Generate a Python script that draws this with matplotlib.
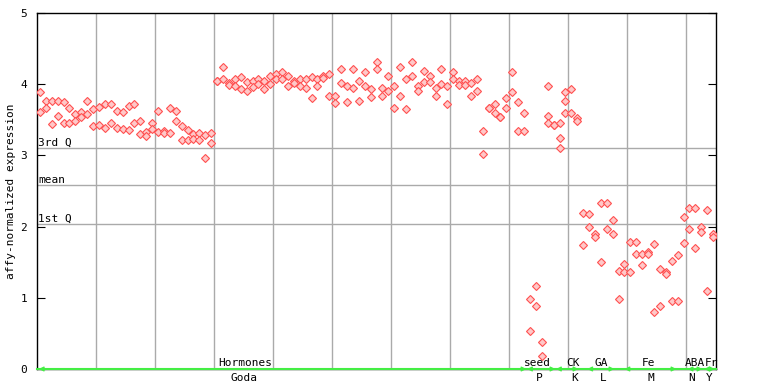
import matplotlib
matplotlib.use('Agg')
import matplotlib.pyplot as plt

# replicate values per sample
expr = [
    [3.89, 3.61], [3.76, 3.66], [3.77, 3.44], [3.76, 3.55], [3.75, 3.45],
    [3.66, 3.46], [3.58, 3.49], [3.61, 3.54], [3.77, 3.58], [3.65, 3.41],
    [3.68, 3.43], [3.72, 3.38], [3.72, 3.46], [3.62, 3.39], [3.61, 3.37],
    [3.69, 3.35], [3.72, 3.45], [3.49, 3.30], [3.33, 3.27], [3.45, 3.37],
    [3.63, 3.33], [3.34, 3.32], [3.67, 3.32], [3.62, 3.48], [3.41, 3.21],
    [3.35, 3.21], [3.30, 3.23], [3.32, 3.21], [3.28, 2.96], [3.31, 3.17],
    [4.05, 4.05], [4.24, 4.08], [4.02, 3.99], [4.07, 3.98], [4.10, 3.93],
    [4.03, 3.90], [4.05, 3.96], [4.08, 4.00], [4.04, 3.93], [4.11, 4.00],
    [4.15, 4.08], [4.17, 4.08], [4.12, 3.97], [4.04, 4.01], [4.07, 3.97],
    [4.08, 3.94], [4.10, 3.80], [4.07, 3.98], [4.11, 4.09], [4.15, 3.84],
    [3.83, 3.73], [4.21, 4.01], [3.97, 3.75], [4.21, 3.94], [4.04, 3.76],
    [4.17, 3.98], [3.93, 3.82], [4.31, 4.22], [3.94, 3.84], [4.11, 3.91],
    [3.97, 3.66], [4.24, 3.83], [4.08, 3.65], [4.31, 4.11], [3.98, 3.91],
    [4.18, 4.03], [4.12, 4.03], [3.94, 3.84], [4.21, 4.00], [3.98, 3.72],
    [4.17, 4.07], [4.04, 3.99], [4.05, 3.99], [4.01, 3.84], [4.08, 3.90],
    [3.34, 3.02], [3.66, 3.66], [3.72, 3.59], [3.54, 3.54], [3.80, 3.66],
    [4.17, 3.89], [3.75, 3.34], [3.59, 3.34], [0.99, 0.53], [1.16, 0.89],
    [0.38, 0.18], [3.98, 3.55, 3.46], [3.42, 3.42], [3.46, 3.24, 3.10],
    [3.89, 3.77, 3.59], [3.93, 3.59], [3.53, 3.49], [2.19, 1.74], [2.17, 2.00],
    [1.90, 1.85], [2.33, 1.50], [2.33, 1.96], [2.09, 1.89], [1.37, 0.99],
    [1.47, 1.36], [1.79, 1.36], [1.78, 1.62], [1.61, 1.46], [1.65, 1.62],
    [1.75, 0.80], [1.40, 0.88], [1.36, 1.33], [1.51, 0.95], [1.60, 0.95],
    [2.13, 1.77], [2.26, 1.96], [2.26, 1.70], [2.00, 1.92], [2.24, 1.09],
    [1.89, 1.85],
]

quartiles = [3.10, 2.585, 2.04]
quartile_names = ['3rd Q', 'mean', '1st Q']

# groups along the bottom
group_top = ['Hormones', 'seed', 'CK', 'GA', 'Fe', 'ABA', 'Fr']
group_bottom = ['Goda', 'P', 'K', 'L', 'M', 'N', 'Y']
group_start = [0.3, 83.0, 87.9, 93.2, 99.5, 110.2, 113.0]
group_end = [82.9, 87.8, 91.7, 97.8, 108.3, 112.7, 114.8]
top_x = [35.3, 84.7, 90.7, 95.6, 103.6, 111.4, 114.2]
bottom_x = [35.0, 85.1, 91.0, 95.9, 103.9, 110.8, 113.9]

plt.rcParams['font.family'] = ['DejaVu Sans Mono']
plt.rcParams['font.size'] = 8

fig = plt.figure(figsize=(7.68, 3.84), dpi=100)
ax = fig.add_axes([37/768, 15/384, 679/768, 356/384])

xs = []
ys = []
for i, reps in enumerate(expr):
    for v in reps:
        xs.append(i + 0.5)
        ys.append(v)
ax.plot(xs, ys, linestyle='none', marker='D', markersize=4.0,
        markerfacecolor='#ffc8c8', markeredgecolor='#ff5050',
        markeredgewidth=0.8, zorder=3)

for k in range(10, 115, 10):
    ax.axvline(k, color='#aaaaaa', lw=1, zorder=1)
for q, name in zip(quartiles, quartile_names):
    ax.axhline(q, color='#aaaaaa', lw=1, zorder=1)
    ax.text(0.15, q + 0.03, name, ha='left', va='baseline', fontsize=8)

ax.set_xlim(0, 115)
ax.set_ylim(0, 5)
ax.set_xticks([])
ax.set_yticks([0, 1, 2, 3, 4, 5])
ax.tick_params(axis='y', direction='in', length=6, pad=7, labelsize=8,
               right=True)
ax.set_ylabel('affy-normalized expression', fontsize=8)
ax.yaxis.set_label_coords(-21/679, 0.5)
for s in ax.spines.values():
    s.set_color('black')
    s.set_linewidth(1)

ax.plot([0, 115], [0, 0], color='#44ee44', lw=1.5, zorder=4, clip_on=False)
for a, b in zip(group_start, group_end):
    ax.annotate('', xy=(a, 0), xytext=(b, 0),
                arrowprops=dict(arrowstyle='<->', color='#44ee44', lw=1.2,
                                mutation_scale=6, shrinkA=0, shrinkB=0),
                annotation_clip=False, zorder=5)
for lab, x in zip(group_top, top_x):
    ax.text(x, 0.045, lab, ha='center', va='baseline', fontsize=8,
            clip_on=False)
for lab, x in zip(group_bottom, bottom_x):
    ax.text(x, -0.06, lab, ha='center', va='top', fontsize=8, clip_on=False)

fig.savefig('out.png', dpi=100)
